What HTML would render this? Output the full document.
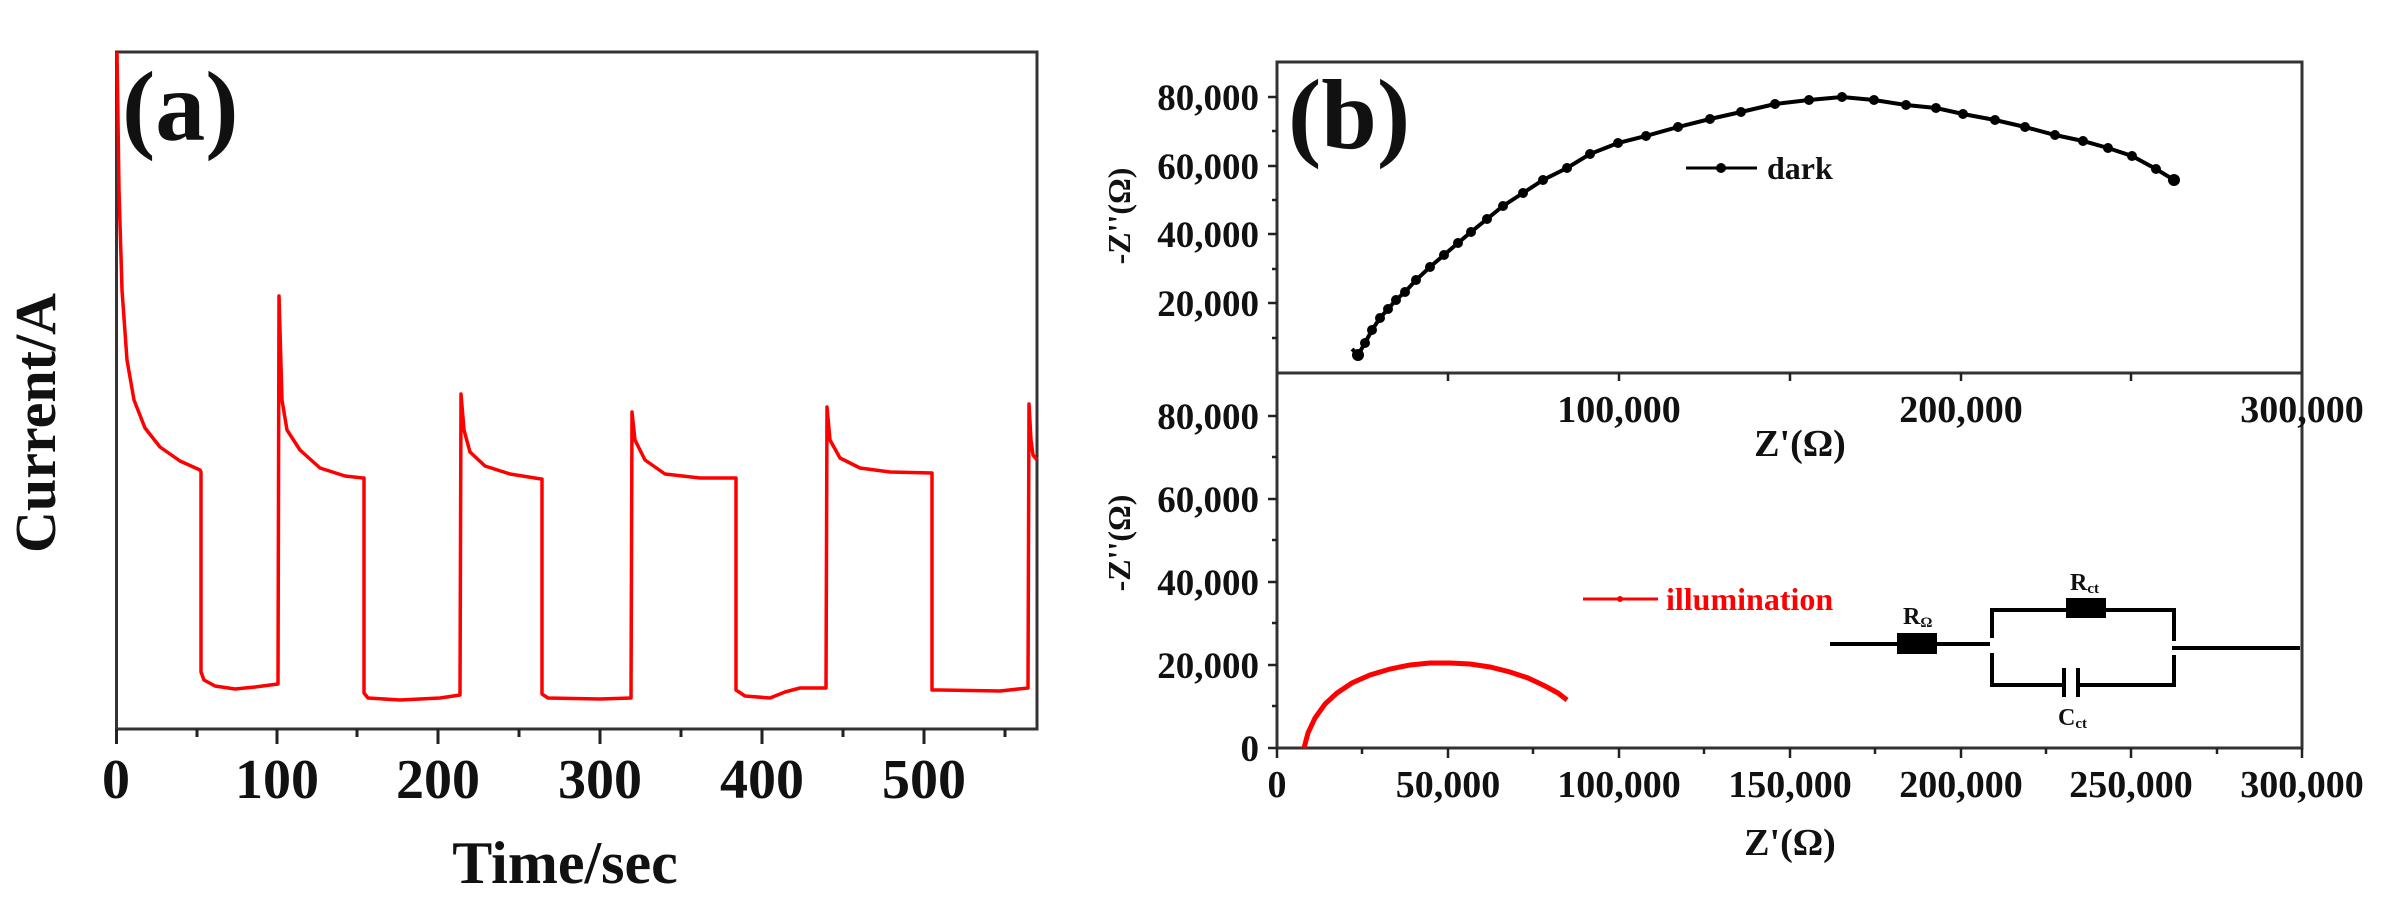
<!DOCTYPE html>
<html><head><meta charset="utf-8"><style>
html,body{margin:0;padding:0;background:#fff;}
svg{display:block;}
text{font-family:"Liberation Serif",serif;font-weight:bold;fill:#111;}
</style></head><body>
<svg width="2395" height="897" viewBox="0 0 2395 897" xmlns="http://www.w3.org/2000/svg">
<!-- Panel (a) -->
<rect x="116.5" y="52" width="920.5" height="677" fill="none" stroke="#333" stroke-width="3"/>
<g stroke="#222" stroke-width="3">
<line x1="116.5" y1="729" x2="116.5" y2="744"/><line x1="277" y1="729" x2="277" y2="744"/>
<line x1="438" y1="729" x2="438" y2="744"/><line x1="600" y1="729" x2="600" y2="744"/>
<line x1="762" y1="729" x2="762" y2="744"/><line x1="924" y1="729" x2="924" y2="744"/>
<line x1="197" y1="729" x2="197" y2="737"/><line x1="357" y1="729" x2="357" y2="737"/>
<line x1="519" y1="729" x2="519" y2="737"/><line x1="681" y1="729" x2="681" y2="737"/>
<line x1="843" y1="729" x2="843" y2="737"/><line x1="1005" y1="729" x2="1005" y2="737"/>
</g>
<g font-size="56" text-anchor="middle">
<text x="116" y="798">0</text><text x="277" y="798">100</text><text x="438" y="798">200</text>
<text x="600" y="798">300</text><text x="762" y="798">400</text><text x="924" y="798">500</text>
</g>
<text x="565" y="883" font-size="60" text-anchor="middle">Time/sec</text>
<text transform="translate(55,423) rotate(-90)" font-size="58" text-anchor="middle">Current/A</text>
<text x="122" y="140" font-size="100">(a)</text>
<path fill="none" stroke="#f00" stroke-width="3.5" stroke-linejoin="round" d="
M117,52 L119,190 L122,290 L127,360 L134,400 L145,428 L160,447 L180,461 L200,470 L201,472
L201,672 L204,680 L215,686 L235,689 L255,687 L278,684 L279,296 L282,400 L287,430 L300,450 L320,468 L345,476 L363,478
L364,478 L364,693 L368,698 L400,700 L440,698 L460,695 L461,394 L464,430 L470,452 L485,466 L510,474 L541,479
L542,479 L542,694 L548,698 L600,699 L631,698 L632,412 L635,440 L645,460 L665,474 L700,478 L735,478
L736,478 L736,690 L745,696 L770,698 L785,692 L800,688 L826,688 L827,407 L830,440 L840,458 L860,468 L890,472 L932,473
L932,690 L940,690 L1000,691 L1028,688 L1029,404 L1031,440 L1033,455 L1037,460"/>
<!-- Panel (b) -->
<rect x="1277" y="62" width="1025" height="686" fill="none" stroke="#333" stroke-width="3"/>
<line x1="1277" y1="373" x2="2302" y2="373" stroke="#333" stroke-width="3"/>
<g stroke="#222" stroke-width="2.5">
<line x1="1268" y1="97" x2="1277" y2="97"/><line x1="1268" y1="166" x2="1277" y2="166"/>
<line x1="1268" y1="234" x2="1277" y2="234"/><line x1="1268" y1="303" x2="1277" y2="303"/>
<line x1="1272" y1="131" x2="1277" y2="131"/><line x1="1272" y1="200" x2="1277" y2="200"/>
<line x1="1272" y1="269" x2="1277" y2="269"/><line x1="1272" y1="338" x2="1277" y2="338"/>
<line x1="1268" y1="416" x2="1277" y2="416"/><line x1="1268" y1="499" x2="1277" y2="499"/>
<line x1="1268" y1="582" x2="1277" y2="582"/><line x1="1268" y1="665" x2="1277" y2="665"/>
<line x1="1268" y1="748" x2="1277" y2="748"/>
<line x1="1272" y1="457" x2="1277" y2="457"/><line x1="1272" y1="540" x2="1277" y2="540"/>
<line x1="1272" y1="623" x2="1277" y2="623"/><line x1="1272" y1="706" x2="1277" y2="706"/>
<line x1="1448" y1="373" x2="1448" y2="381"/><line x1="1619" y1="373" x2="1619" y2="381"/>
<line x1="1790" y1="373" x2="1790" y2="381"/><line x1="1961" y1="373" x2="1961" y2="381"/>
<line x1="2131" y1="373" x2="2131" y2="381"/>
<line x1="1277" y1="748" x2="1277" y2="758"/><line x1="1448" y1="748" x2="1448" y2="758"/>
<line x1="1619" y1="748" x2="1619" y2="758"/><line x1="1790" y1="748" x2="1790" y2="758"/>
<line x1="1961" y1="748" x2="1961" y2="758"/><line x1="2131" y1="748" x2="2131" y2="758"/>
<line x1="2302" y1="748" x2="2302" y2="758"/>
<line x1="1362" y1="748" x2="1362" y2="754"/><line x1="1533" y1="748" x2="1533" y2="754"/>
<line x1="1704" y1="748" x2="1704" y2="754"/><line x1="1875" y1="748" x2="1875" y2="754"/>
<line x1="2046" y1="748" x2="2046" y2="754"/><line x1="2217" y1="748" x2="2217" y2="754"/>
</g>
<g font-size="37" text-anchor="end">
<text x="1259" y="110">80,000</text><text x="1259" y="179">60,000</text>
<text x="1259" y="247">40,000</text><text x="1259" y="316">20,000</text>
<text x="1259" y="429">80,000</text><text x="1259" y="512">60,000</text>
<text x="1259" y="595">40,000</text><text x="1259" y="678">20,000</text>
<text x="1259" y="761">0</text>
</g>
<g font-size="38" text-anchor="middle">
<text x="1619" y="422">100,000</text><text x="1961" y="422">200,000</text><text x="2302" y="422">300,000</text>
<text x="1277" y="797">0</text><text x="1448" y="797">50,000</text><text x="1619" y="797">100,000</text>
<text x="1790" y="797">150,000</text><text x="1961" y="797">200,000</text><text x="2131" y="797">250,000</text>
<text x="2302" y="797">300,000</text>
<text x="1800" y="456">Z'(Ω)</text><text x="1790" y="855">Z'(Ω)</text>
</g>
<text transform="translate(1130,216) rotate(-90)" font-size="32" text-anchor="middle">-Z''(Ω)</text>
<text transform="translate(1130,543) rotate(-90)" font-size="32" text-anchor="middle">-Z''(Ω)</text>
<text x="1288" y="148" font-size="100">(b)</text>
<g fill="none" stroke="#000" stroke-width="4">
<polyline points="1352,349 1358,355 1365,343 1372,330 1380,318 1388,309 1396,300 1405,292 1416,280 1430,267 1444,255 1458,243 1471,232 1487,219 1503,206 1523,193 1543,180 1567,168 1590,154 1618,143 1646,136 1678,127 1710,119 1741,112 1775,104 1809,100 1842,97 1874,100 1906,105 1936,108 1963,114 1995,120 2025,127 2055,135 2083,141 2108,148 2132,156 2156,169 2174,180"/>
<line x1="1686" y1="168" x2="1757" y2="168" stroke-width="3"/>
</g>
<g fill="#000">
<circle cx="1358" cy="355" r="6"/><circle cx="1365" cy="343" r="5"/><circle cx="1372" cy="330" r="5"/><circle cx="1380" cy="318" r="5"/><circle cx="1388" cy="309" r="5"/><circle cx="1396" cy="300" r="5"/><circle cx="1405" cy="292" r="5"/><circle cx="1416" cy="280" r="5"/><circle cx="1430" cy="267" r="5"/><circle cx="1444" cy="255" r="5"/><circle cx="1458" cy="243" r="5"/><circle cx="1471" cy="232" r="5"/><circle cx="1487" cy="219" r="5"/><circle cx="1503" cy="206" r="5"/><circle cx="1523" cy="193" r="5"/><circle cx="1543" cy="180" r="5"/><circle cx="1567" cy="168" r="5"/><circle cx="1590" cy="154" r="5"/><circle cx="1618" cy="143" r="5"/><circle cx="1646" cy="136" r="5"/><circle cx="1678" cy="127" r="5"/><circle cx="1710" cy="119" r="5"/><circle cx="1741" cy="112" r="5"/><circle cx="1775" cy="104" r="5"/><circle cx="1809" cy="100" r="5"/><circle cx="1842" cy="97" r="5"/><circle cx="1874" cy="100" r="5"/><circle cx="1906" cy="105" r="5"/><circle cx="1936" cy="108" r="5"/><circle cx="1963" cy="114" r="5"/><circle cx="1995" cy="120" r="5"/><circle cx="2025" cy="127" r="5"/><circle cx="2055" cy="135" r="5"/><circle cx="2083" cy="141" r="5"/><circle cx="2108" cy="148" r="5"/><circle cx="2132" cy="156" r="5"/><circle cx="2156" cy="169" r="5"/><circle cx="2174" cy="180" r="6"/><circle cx="1721" cy="168" r="5"/>
</g>
<text x="1767" y="179" font-size="32">dark</text>
<path fill="none" stroke="#f00" stroke-width="5" d="M1304,748 L1308,733 L1315,718 L1325,704 L1337,693 L1352,683 L1370,675 L1390,669 L1410,665 L1430,663 L1450,663 L1470,664 L1490,667 L1510,672 L1528,678 L1545,686 L1558,693 L1567,700"/>
<line x1="1583" y1="599" x2="1658" y2="599" stroke="#f00" stroke-width="3"/>
<circle cx="1620" cy="599" r="3" fill="#f00"/>
<text x="1666" y="610" font-size="32" style="fill:#f00">illumination</text>
<g stroke="#000" stroke-width="4" fill="none">
<line x1="1830" y1="644" x2="1990" y2="644"/>
<polyline points="1992,638 1992,610 2174,610 2174,641"/>
<polyline points="1992,653 1992,685 2064,685"/>
<polyline points="2078,685 2174,685 2174,655"/>
<line x1="2064" y1="668" x2="2064" y2="697"/><line x1="2078" y1="668" x2="2078" y2="697"/>
<line x1="2172" y1="648" x2="2300" y2="648"/>
</g>
<rect x="1897" y="633" width="40" height="21" fill="#000"/>
<rect x="2066" y="598" width="40" height="20" fill="#000"/>
<text x="1903" y="624" font-size="24">R<tspan font-size="15" dy="3">Ω</tspan></text>
<text x="2070" y="590" font-size="24">R<tspan font-size="15" dy="3">ct</tspan></text>
<text x="2058" y="725" font-size="24">C<tspan font-size="15" dy="3">ct</tspan></text>
</svg>
</body></html>
